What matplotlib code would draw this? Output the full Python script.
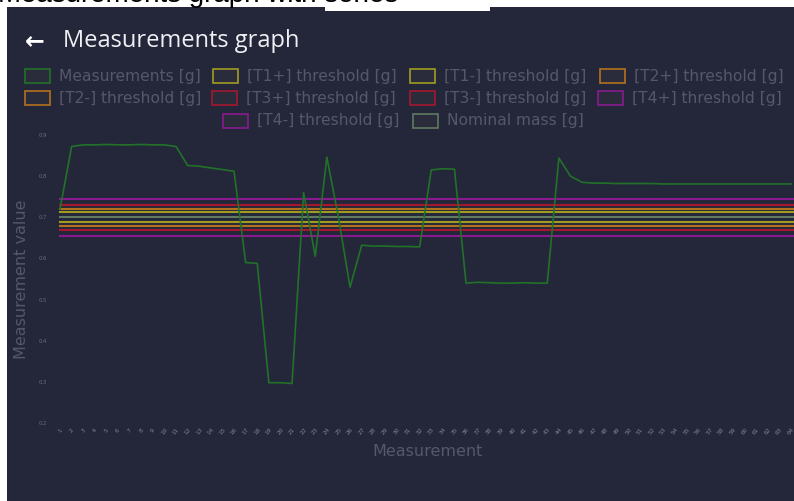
import matplotlib.pyplot as plt
from matplotlib.patches import Rectangle


#######################################################


# Measurement readings [g], one per sample
measurements = [0.720, 0.872, 0.876, 0.876, 0.877, 0.876, 0.876, 0.877, 0.876, 0.876,
                0.872, 0.826, 0.824, 0.820, 0.816, 0.812, 0.590, 0.588, 0.298, 0.298,
                0.296, 0.760, 0.605, 0.846, 0.700, 0.530, 0.632, 0.630, 0.630, 0.629,
                0.629, 0.628, 0.815, 0.818, 0.817, 0.540, 0.542, 0.541, 0.540, 0.540,
                0.541, 0.540, 0.540, 0.844, 0.800, 0.785, 0.783, 0.783, 0.782, 0.782,
                0.782, 0.782, 0.781, 0.781, 0.781, 0.781, 0.781, 0.781, 0.781, 0.781,
                0.781, 0.781, 0.781, 0.781]

nominal = 0.700
thresholds = {
    '[T1+] threshold [g]': 0.712,
    '[T1-] threshold [g]': 0.688,
    '[T2+] threshold [g]': 0.721,
    '[T2-] threshold [g]': 0.679,
    '[T3+] threshold [g]': 0.731,
    '[T3-] threshold [g]': 0.669,
    '[T4+] threshold [g]': 0.745,
    '[T4-] threshold [g]': 0.655,
}
threshold_colors = ['#a09c22', '#a09c22', '#b3711f', '#b3711f',
                    '#a3182e', '#a3182e', '#8b1a90', '#8b1a90']

y_ticks = [0.2, 0.3, 0.4, 0.5, 0.6, 0.7, 0.8, 0.9]
x_labels = [str(i + 1) for i in range(len(measurements))]

bg = '#24273a'
dim = '#54586a'
meas_color = '#217228'
nominal_color = '#5f7a62'


#######################################################


W, H = 794, 501
fig = plt.figure(figsize=(W / 100, H / 100), dpi=100, facecolor=bg)
fig.patches.append(Rectangle((0, 0), 1, 1, transform=fig.transFigure,
                             facecolor=bg, edgecolor='none', zorder=-1))

# screen frame: white strip at top and left
fig.patches.append(Rectangle((0, 1 - 7 / H), 1, 7 / H, transform=fig.transFigure,
                             facecolor='white', edgecolor='none', zorder=0))
fig.patches.append(Rectangle((325 / W, 1 - 11 / H), 165 / W, 11 / H, transform=fig.transFigure,
                             facecolor='white', edgecolor='none', zorder=0))
fig.patches.append(Rectangle((0, 0), 7 / W, 1, transform=fig.transFigure,
                             facecolor='white', edgecolor='none', zorder=0))
fig.text(-2 / W, 1 - 2 / H, 'Measurements graph with series', fontsize=20,
         family='Liberation Sans', color='black', va='baseline', ha='left')

# header
fig.text(25 / W, 1 - 41 / H, '\u2190', fontsize=17, color='white',
         family=['DejaVu Sans'], va='center', ha='left', weight='bold')
fig.text(63 / W, 1 - 41 / H, 'Measurements graph', fontsize=17, color='#f0f0f4',
         family=['Open Sans', 'DejaVu Sans'], va='center', ha='left')


#######################################################


# Plot area
ax_left, ax_right = 57, 799
ax_top, ax_bottom = 135, 423
ax = fig.add_axes([ax_left / W, 1 - ax_bottom / H,
                   (ax_right - ax_left) / W, (ax_bottom - ax_top) / H])
ax.set_facecolor('none')

x = list(range(len(measurements)))
ax.plot(x, measurements, color=meas_color, lw=1.2, zorder=5)
for (name, value), c in zip(thresholds.items(), threshold_colors):
    ax.axhline(value, color=c, lw=1.5, xmin=0.004, zorder=3)
ax.axhline(nominal, color=nominal_color, lw=1.5, xmin=0.004, zorder=3)

ax.set_xlim(-0.26, 63.7)
ax.set_ylim(0.2, 0.9)
ax.set_yticks(y_ticks)
ax.set_yticklabels(['%.1f' % v for v in y_ticks], fontsize=3.8, color='#6a6d7e')
ax.set_xticks(x)
ax.set_xticklabels(x_labels, fontsize=4.2, color='#80839a', rotation=50)
ax.tick_params(axis='y', length=0, pad=7)
ax.tick_params(axis='x', length=0, pad=3)
for s in ax.spines.values():
    s.set_visible(False)

fig.text(22 / W, 1 - 279 / H, 'Measurement value', rotation=90, fontsize=11.5,
         color=dim, va='center', ha='center')
fig.text(428 / W, 1 - 452 / H, 'Measurement', fontsize=11.5,
         color=dim, va='center', ha='center')


#######################################################


# Legend: three centred rows of outlined boxes
legend_items = [('Measurements [g]', meas_color)]
legend_items += list(zip(thresholds.keys(), threshold_colors))
legend_items += [('Nominal mass [g]', nominal_color)]

rows = [(76, [25, 213, 410, 600]), (98, [25, 212, 410, 598]), (121, [223, 413])]
k = 0
for y_px, xs in rows:
    for x_px in xs:
        label, c = legend_items[k]
        k += 1
        fig.patches.append(Rectangle((x_px / W, 1 - (y_px + 7) / H), 25 / W, 14 / H,
                                     transform=fig.transFigure, facecolor='#2a2c3c',
                                     edgecolor=c, lw=1.2))
        fig.text((x_px + 34) / W, 1 - y_px / H, label, fontsize=11.2, color=dim,
                 va='center', ha='left')

plt.savefig('out.png', dpi=100, facecolor=bg)
